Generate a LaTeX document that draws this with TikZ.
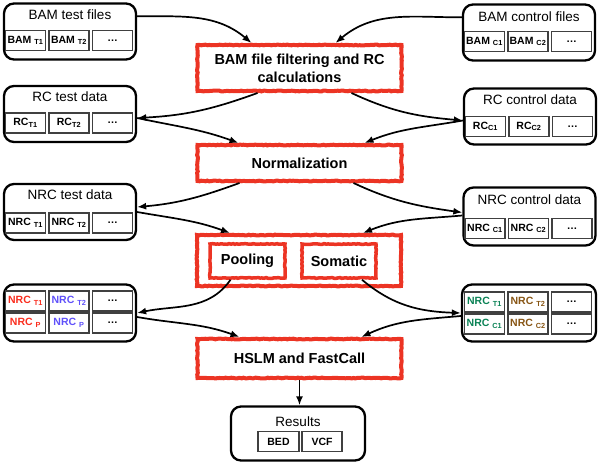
\documentclass[tikz,border=0pt]{standalone}
\usepackage{fontspec}
\setmainfont{Liberation Sans}
\usetikzlibrary{arrows.meta,calc,decorations.pathmorphing}
\definecolor{stepred}{RGB}{236,52,36}
\definecolor{nrcred}{RGB}{250,45,30}
\definecolor{nrcblue}{RGB}{95,80,250}
\definecolor{nrcgreen}{RGB}{10,130,85}
\definecolor{nrcbrown}{RGB}{135,85,20}
\tikzset{
  databox/.style={draw, rounded corners=10pt, line width=2.3pt, minimum width=132pt, minimum height=56pt, inner sep=0pt},
  boxtitle/.style={font=\fontsize{13.5}{15}\selectfont},
  cell/.style={draw=black!75, line width=1.2pt, minimum width=40pt, minimum height=20pt, inner sep=0pt, font=\fontsize{10.5}{12}\selectfont\bfseries},
  stepbox/.style={draw=stepred, line width=4pt, minimum width=204pt, inner sep=0pt, align=center,
    font=\fontsize{14.5}{18}\selectfont\bfseries, decorate, decoration={random steps,segment length=2pt,amplitude=0.4pt}},
  flow/.style={-{Latex[length=9pt,width=7pt]}, line width=1.7pt},
}
\begin{document}
\begin{tikzpicture}[x=1pt,y=1pt]
\useasboundingbox (0,0) rectangle (600,-463);

% input files
\node[databox] (testbam) at (70,-31.5) {};
\node[boxtitle] (testbamt) at ($(testbam.center)+(0,16.5)$) {BAM test files};
\foreach \n/\dx/\t in {1/-44.5/{BAM \textsubscript{T1}},2/-1/{BAM \textsubscript{T2}},3/42.5/{\dots}}
  \node[cell] (testbam\n) at ($(testbam.center)+(\dx,-9)$) {\t};

\node[databox] (ctrlbam) at (529,-32.5) {};
\node[boxtitle] (ctrlbamt) at ($(ctrlbam.center)+(0,16)$) {BAM control files};
\foreach \n/\dx/\t in {1/-44.5/{BAM \textsubscript{C1}},2/-1/{BAM \textsubscript{C2}},3/42.5/{\dots}}
  \node[cell] (ctrlbam\n) at ($(ctrlbam.center)+(\dx,-9)$) {\t};

\node[stepbox, minimum height=46pt] (filter) at (299.5,-68) {BAM file filtering and RC\\calculations};

% read counts
\node[databox] (testrc) at (70,-114) {};
\node[boxtitle] (testrct) at ($(testrc.center)+(0,17)$) {RC test data};
\foreach \n/\dx/\t in {1/-44.5/{RC\textsubscript{T1}},2/-1/{RC\textsubscript{T2}},3/42.5/{\dots}}
  \node[cell] (testrc\n) at ($(testrc.center)+(\dx,-9)$) {\t};

\node[databox] (ctrlrc) at (530,-116.5) {};
\node[boxtitle] (ctrlrct) at ($(ctrlrc.center)+(0,17)$) {RC control data};
\foreach \n/\dx/\t in {1/-44.5/{RC\textsubscript{C1}},2/-1/{RC\textsubscript{C2}},3/42.5/{\dots}}
  \node[cell] (ctrlrc\n) at ($(ctrlrc.center)+(\dx,-10)$) {\t};

\node[stepbox, minimum height=36pt] (norm) at (299.5,-163) {Normalization};

% normalized read counts
\node[databox] (testnrc) at (70,-212) {};
\node[boxtitle] (testnrct) at ($(testnrc.center)+(0,17)$) {NRC test data};
\foreach \n/\dx/\t in {1/-44.5/{NRC \textsubscript{T1}},2/-1/{NRC \textsubscript{T2}},3/42.5/{\dots}}
  \node[cell] (testnrc\n) at ($(testnrc.center)+(\dx,-11)$) {\t};

\node[databox, minimum height=58pt] (ctrlnrc) at (529.5,-216.5) {};
\node[boxtitle] (ctrlnrct) at ($(ctrlnrc.center)+(0,17)$) {NRC control data};
\foreach \n/\dx/\t in {1/-44.5/{NRC \textsubscript{C1}},2/-1/{NRC \textsubscript{C2}},3/42.5/{\dots}}
  \node[cell] (ctrlnrc\n) at ($(ctrlnrc.center)+(\dx,-12)$) {\t};

\node[stepbox, minimum height=51pt] (combine) at (299,-260.5) {};
\node[stepbox, minimum width=75pt, minimum height=34pt, line width=3.5pt] (pool) at (247.5,-261) {Pooling};
\node[stepbox, minimum width=74pt, minimum height=34pt, line width=3.5pt] (somatic) at (339,-261) {Somatic};

% combined sets
\node[databox, minimum height=57pt] (testmix) at (70,-313) {};
\foreach \n/\dx/\dy/\c/\t in {1/-44.5/12/nrcred/{NRC \textsubscript{T1}},2/-1/12/nrcblue/{NRC \textsubscript{T2}},3/42.5/12/black/{\dots},
    4/-44.5/-10/nrcred/{NRC \textsubscript{P}},5/-1/-10/nrcblue/{NRC \textsubscript{P}},6/42.5/-10/black/{\dots}}
  \node[cell, text=\c] (testmix\n) at ($(testmix.center)+(\dx,\dy)$) {\t};

\node[databox, minimum height=57pt, minimum width=134pt] (ctrlmix) at (529,-313) {};
\foreach \n/\dx/\dy/\c/\t in {1/-44.5/11/nrcgreen/{NRC \textsubscript{T1}},2/-1/11/nrcbrown/{NRC \textsubscript{T2}},3/42.5/11/black/{\dots},
    4/-44.5/-11/nrcgreen/{NRC \textsubscript{C1}},5/-1/-11/nrcbrown/{NRC \textsubscript{C2}},6/42.5/-11/black/{\dots}}
  \node[cell, text=\c] (ctrlmix\n) at ($(ctrlmix.center)+(\dx,\dy)$) {\t};

\node[stepbox, minimum height=39pt] (hslm) at (299.5,-358.5) {HSLM and FastCall};

% output
\node[databox, minimum width=134pt, minimum height=54pt] (results) at (298,-433.5) {};
\node[boxtitle] (resultst) at ($(results.center)+(0,11.5)$) {Results};
\node[cell, minimum width=41pt] (bed) at ($(results.center)+(-19.5,-8)$) {BED};
\node[cell, minimum width=40pt] (vcf) at ($(results.center)+(24,-8)$) {VCF};

% connectors
\draw[flow] ($(testbam.north east)+(0,-14)$) to[out=0,in=140] ($(filter.north)+(-48,0)$);
\draw[flow] ($(ctrlbam.north west)+(0,-14)$) to[out=180,in=40] ($(filter.north)+(36,0)$);
\draw[flow] ($(filter.south)+(-42,0)$) to[out=200,in=3] ($(testrc.east)+(0,-4)$);
\draw[flow] ($(testrc.east)+(0,-4)$) to[out=-12,in=160] ($(norm.north)+(-61,0)$);
\draw[flow] ($(filter.south)+(52,0)$) to[out=-25,in=175] ($(ctrlrc.west)+(0,-4)$);
\draw[flow] ($(ctrlrc.west)+(0,-4)$) to[out=190,in=22] ($(norm.north)+(65,0)$);
\draw[flow] ($(norm.south)+(-60,0)$) to[out=200,in=5] ($(testnrc.east)+(0,5)$);
\draw[flow] ($(testnrc.east)+(0,0)$) to[out=-10,in=160] ($(combine.north)+(-69,0)$);
\draw[flow] ($(norm.south)+(54,0)$) to[out=-25,in=172] ($(ctrlnrc.west)+(0,4)$);
\draw[flow] ($(ctrlnrc.west)+(0,1)$) to[out=185,in=22] ($(combine.north)+(64,0)$);
\draw[flow] ($(pool.south)+(-17,0)$) to[out=-125,in=12] ($(testmix.east)+(0,0)$);
\draw[flow] ($(testmix.east)+(0,-4)$) to[out=-10,in=160] ($(hslm.north)+(-60,0)$);
\draw[flow] ($(somatic.south)+(23,0)$) to[out=-40,in=178] ($(ctrlmix.west)+(0,0)$);
\draw[flow] ($(ctrlmix.west)+(0,-3)$) to[out=185,in=25] ($(hslm.north)+(62,0)$);
\draw[flow] (hslm.south) -- (hslm.south |- results.north);
\end{tikzpicture}
\end{document}
